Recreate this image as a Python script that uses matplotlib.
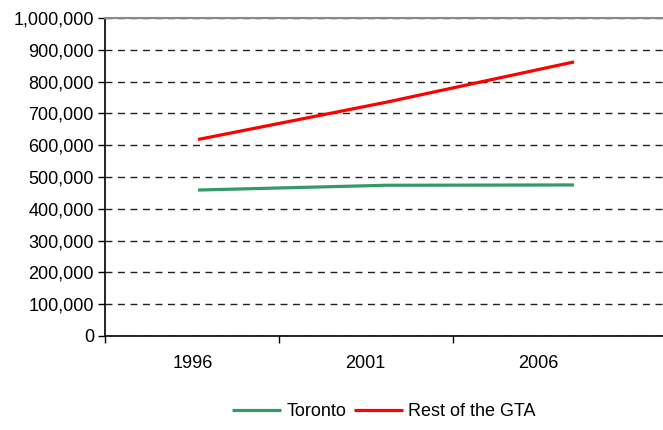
import numpy as np
import matplotlib.pyplot as plt
from matplotlib.ticker import FuncFormatter

plt.rcParams['font.family'] = ['Liberation Sans', 'DejaVu Sans']

# data
years = ['1996', '2001', '2006']
toronto = [459000, 474000, 475000]
rest_gta = [618000, 735000, 862000]

fig = plt.figure(figsize=(6.63, 4.30), dpi=100)
ax = fig.add_axes([105 / 663, 94 / 430, 558 / 663, 318 / 430])

x = np.arange(len(years))
ax.plot(x, toronto, color='#339966', linewidth=2.3, label='Toronto', solid_capstyle='butt')
ax.plot(x, rest_gta, color='#ff0000', linewidth=2.3, label='Rest of the GTA', solid_capstyle='butt')

# x layout roughly as in the original (labels/ticks a bit off the data points)
ax.set_xlim(-0.495, 2.473)
ax.set_xticks(x - 0.03 - 0.08 * x)
ax.set_xticklabels(years)
ax.set_xticks([-0.495, 0.431, 1.356], minor=True)
ax.tick_params(axis='x', which='major', length=0, pad=14, labelsize=13)
ax.tick_params(axis='x', which='minor', length=5, width=1, color='black')

ax.set_ylim(0, 1000000)
ax.set_yticks(np.arange(0, 1000001, 100000))
ax.yaxis.set_major_formatter(FuncFormatter(lambda v, p: f'{int(v):,}'))
ax.tick_params(axis='y', length=5, width=1, labelsize=13, pad=3)

ax.grid(axis='y', color='#222222', linestyle=(0, (5, 4)), linewidth=1)
ax.set_axisbelow(True)

ax.spines['right'].set_visible(False)
ax.spines['top'].set_color('#888888')
ax.spines['top'].set_linewidth(1.5)
ax.spines['left'].set_linewidth(1.2)
ax.spines['bottom'].set_linewidth(1.2)

fig.legend(loc='center', bbox_to_anchor=(384 / 663, 1 - 412 / 430), ncol=2, frameon=False,
           fontsize=13, handlelength=2.7, handletextpad=0.28, columnspacing=0.45)

fig.savefig('out.png', dpi=100)
